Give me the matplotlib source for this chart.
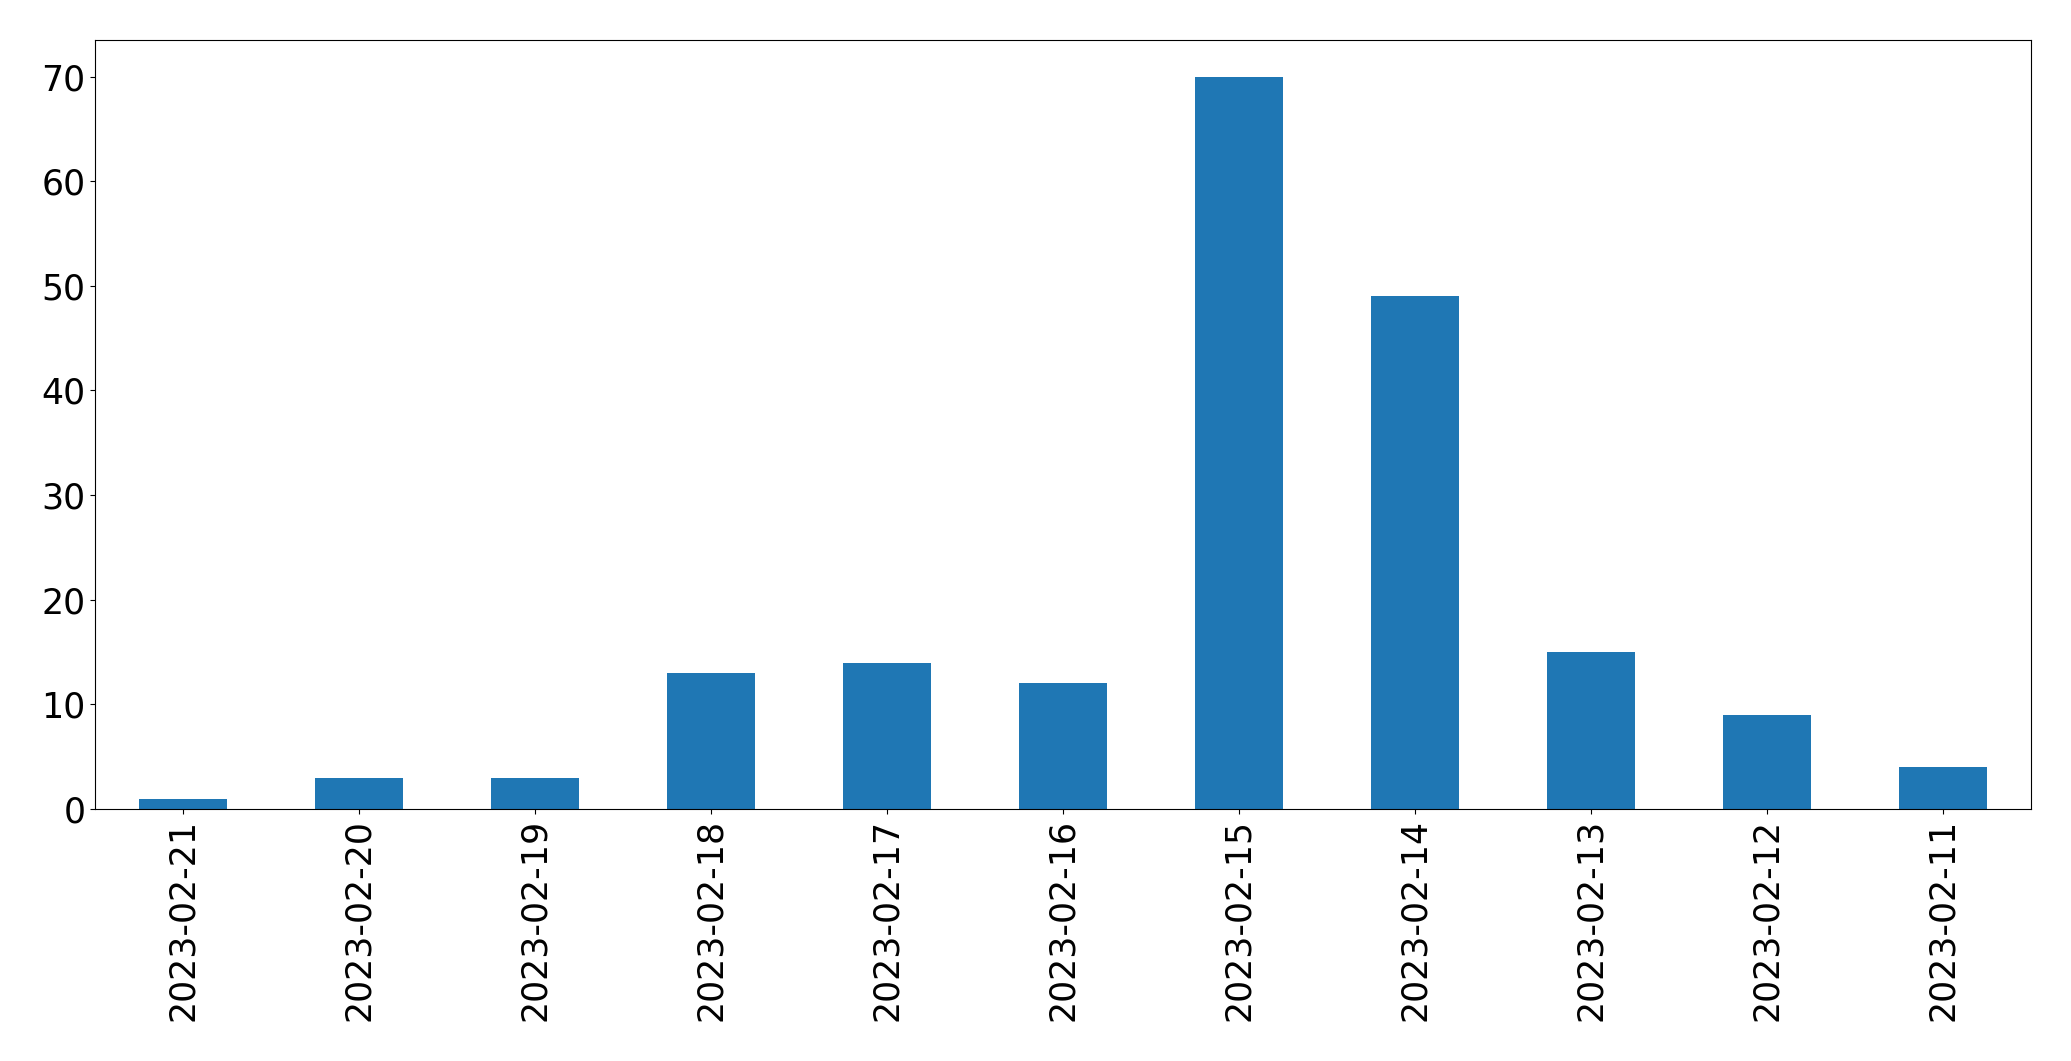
import matplotlib
matplotlib.use("Agg")
import matplotlib.pyplot as plt
import numpy as np

# Daily counts, in the order shown (newest first)
dates = [
    "2023-02-21", "2023-02-20", "2023-02-19", "2023-02-18", "2023-02-17",
    "2023-02-16", "2023-02-15", "2023-02-14", "2023-02-13", "2023-02-12",
    "2023-02-11",
]
counts = [1, 3, 3, 13, 14, 12, 70, 49, 15, 9, 4]

fig = plt.figure(figsize=(20.71, 10.61), dpi=100)
ax = fig.add_axes([95 / 2071, 1 - 809 / 1061, (2031 - 95) / 2071, (809 - 40) / 1061])

x = np.arange(len(dates))
ax.bar(x, counts, width=0.5, color="#1f77b4")
ax.set_xlim(-0.5, len(dates) - 0.5)
ax.set_ylim(0, max(counts) * 1.05)
ax.set_xticks(x)
ax.set_xticklabels(dates, rotation=90)
ax.tick_params(axis="both", labelsize=25)

fig.savefig("out.png", dpi=100)
